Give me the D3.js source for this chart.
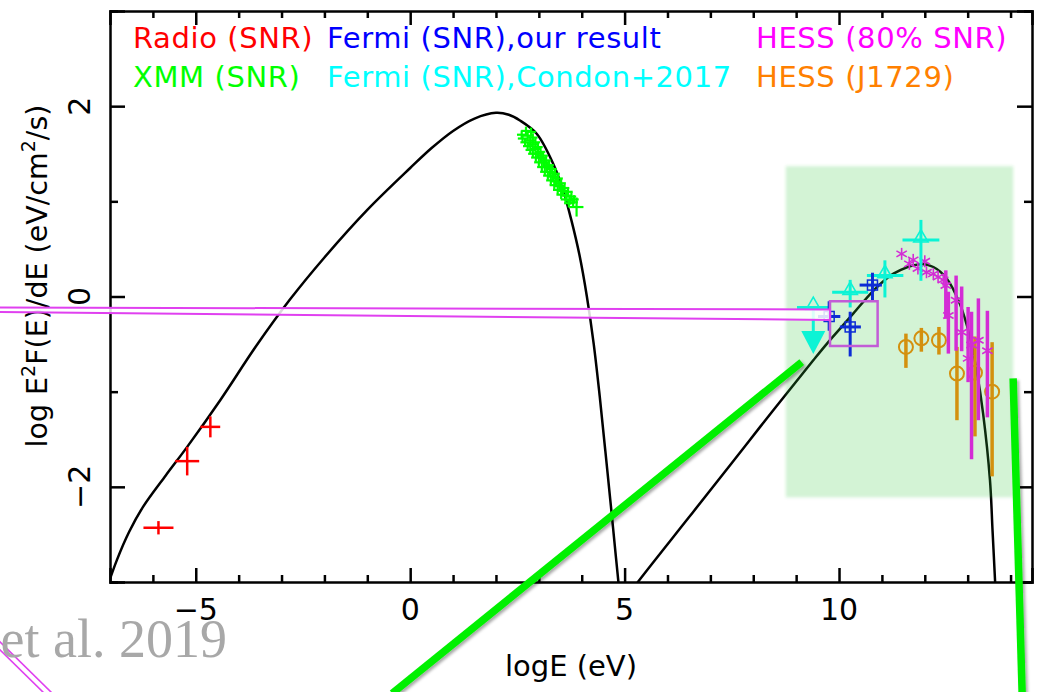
<!DOCTYPE html>
<html>
<head>
<meta charset="utf-8">
<script src="https://cdn.jsdelivr.net/npm/d3@7"></script>
<style>
  html, body { margin: 0; padding: 0; background: #fff; }
  svg { display: block; }
</style>
</head>
<body>
<svg id="chart" width="1037" height="692"></svg>
<script>
// ---- axis ranges and ticks ----
const xDomain = [-7, 14.5];
const yDomain = [-3, 3];
const xMajorTicks = [-5, 0, 5, 10];
const xMinorTicks = d3.range(-6, 15, 1);
const yMajorTicks = [-2, 0, 2];
const yMinorTicks = [-3, -1, 1, 3];

// ---- model curves (logE, log E^2 dN/dE) ----
const synchrotronCurve = [
  [-7.1, -3.1], [-6.84, -2.77], [-6.55, -2.47], [-6.23, -2.21], [-5.7, -1.88],
  [-5.2, -1.58], [-4.43, -1.09], [-3.6, -0.526], [-2.8, -0.03], [-2.0, 0.41],
  [-1.0, 0.91], [0.0, 1.35], [0.5, 1.56], [1.0, 1.74], [1.5, 1.87],
  [2.0, 1.93], [2.3, 1.91], [2.56, 1.85], [2.95, 1.71], [3.34, 1.39],
  [3.57, 1.11], [3.76, 0.80], [3.95, 0.43], [4.12, 0.0], [4.28, -0.5],
  [4.42, -1.05], [4.55, -1.62], [4.68, -2.2], [4.80, -2.75], [4.90, -3.2]
];
const inverseComptonCurve = [
  [5.2, -3.07], [5.31, -3.0], [6.5, -2.32], [7.5, -1.75], [8.16, -1.37],
  [8.9, -0.95], [9.4, -0.67], [9.71, -0.50], [10.02, -0.34], [10.33, -0.18],
  [10.80, 0.06], [11.27, 0.24], [11.89, 0.34], [12.20, 0.31], [12.51, 0.19],
  [12.82, -0.08], [13.05, -0.42], [13.21, -0.78], [13.36, -1.23], [13.52, -1.93],
  [13.58, -2.46], [13.64, -3.0], [13.66, -3.2]
];

// ---- data: [logE, value, xErrLow, xErrHigh, yErrLow, yErrHigh] ----
const radioSNR = [
  [-5.87, -2.43, 0.35, 0.35, 0.07, 0.07],
  [-5.20, -1.73, 0.28, 0.28, 0.15, 0.15],
  [-4.66, -1.37, 0.23, 0.23, 0.11, 0.11]
];
// XMM spectrum: [logE, value]
const xmmSNR = [
  [2.60,1.70],[2.70,1.74],[2.82,1.73],[2.62,1.66],[2.74,1.69],[2.86,1.67],
  [2.68,1.62],[2.80,1.64],[2.92,1.62],[2.74,1.58],[2.86,1.60],[2.98,1.57],
  [2.80,1.54],[2.92,1.55],[3.04,1.52],[2.86,1.50],[2.98,1.50],[3.10,1.48],
  [2.93,1.46],[3.05,1.46],[3.17,1.43],[3.00,1.41],[3.12,1.41],[3.24,1.38],
  [3.07,1.36],[3.19,1.36],[3.31,1.34],[3.14,1.31],[3.26,1.31],[3.38,1.29],
  [3.21,1.27],[3.33,1.26],[3.45,1.24],[3.28,1.22],[3.40,1.21],[3.52,1.19],
  [3.36,1.17],[3.48,1.16],[3.60,1.14],[3.44,1.12],[3.56,1.11],[3.68,1.10],
  [3.52,1.07],[3.64,1.06],[3.76,1.05],[3.62,1.02],[3.72,1.01],[3.82,1.02],
  [3.70,0.98],[3.80,0.99]
];
const xmmSNRLast = [[3.88, 0.94, 0.16, 0.16, 0.1, 0.1]];
const fermiOurs = [
  [9.77, -0.21, 0.26, 0.26, 0.15, 0.16],
  [10.26, -0.32, 0.24, 0.25, 0.31, 0.16],
  [10.78, 0.12, 0.30, 0.22, 0.16, 0.13]
];
const fermiCondon = [
  [10.26, 0.045, 0.42, 0.42, 0.16, 0.13],
  [11.07, 0.22, 0.42, 0.43, 0.23, 0.16],
  [11.91, 0.595, 0.43, 0.43, 0.43, 0.21]
];
// upper limit: [logE, value, xErr, arrow length]
const fermiCondonUL = [[9.40, -0.115, 0.38, 0.49]];
// [logE, value, yErrLow, yErrHigh]
const hessSNR = [
  [11.46, 0.448, 0.04, 0.04], [11.64, 0.343, 0.04, 0.04], [11.73, 0.385, 0.04, 0.04],
  [11.84, 0.294, 0.04, 0.04], [12.00, 0.370, 0.04, 0.04], [12.04, 0.255, 0.04, 0.04],
  [12.20, 0.238, 0.04, 0.04], [12.31, 0.203, 0.04, 0.04], [12.43, 0.175, 0.05, 0.05],
  [12.49, 0.115, 0.35, 0.16], [12.55, -0.20, 0.40, 0.25], [12.73, -0.04, 0.53, 0.26],
  [12.86, -0.375, 0.20, 0.48], [13.01, -0.65, 0.25, 0.54], [13.09, -0.51, 1.20, 0.35],
  [13.25, -0.46, 0.84, 0.44], [13.46, -0.57, 0.70, 0.42]
];
const hessJ1729 = [
  [11.56, -0.53, 0.22, 0.14], [11.92, -0.44, 0.14, 0.11], [12.33, -0.46, 0.15, 0.14],
  [12.75, -0.81, 0.49, 0.28], [13.17, -0.80, 0.67, 0.38], [13.57, -1.00, 0.89, 0.52]
];

// ---- legend entries: [label, colour, column, row] ----
const legendRows = [
  ["Radio (SNR)", "#ff0000", 0, 0], ["Fermi (SNR),our result", "#0000ff", 1, 0],
  ["HESS (80% SNR)", "#ff00ff", 2, 0], ["XMM (SNR)", "#00ff00", 0, 1],
  ["Fermi (SNR),Condon+2017", "#00ffff", 1, 1], ["HESS (J1729)", "#ff8000", 2, 1]
];

// ---- highlighted region and callouts (logE, value) ----
const zoomRegion = { x0: 8.76, x1: 14.06, y0: -2.11, y1: 1.37 };
const fermiBox = { x0: 9.79, x1: 10.90, y0: -0.52, y1: -0.05 };
const zoomLines = [
  [[9.13, -0.69], [-0.42, -4.17]],
  [[14.06, -0.86], [14.27, -4.17]]
];

// ---------------------------------------------------------------
const svg = d3.select("#chart");
const W = 1037, H = 692;
const SANS = "'DejaVu Sans', sans-serif";
const x = d3.scaleLinear().domain(xDomain).range([110, 1032]);
const y = d3.scaleLinear().domain(yDomain).range([582, 11]);

const defs = svg.append("defs");
defs.append("clipPath").attr("id", "plotClip").append("rect")
  .attr("x", x(xDomain[0])).attr("y", y(yDomain[1]))
  .attr("width", x(xDomain[1]) - x(xDomain[0])).attr("height", y(yDomain[0]) - y(yDomain[1]));
defs.append("filter").attr("id", "soft").attr("x", "-5%").attr("y", "-5%").attr("width", "110%").attr("height", "110%")
  .append("feGaussianBlur").attr("stdDeviation", 1.6);
const sh = defs.append("filter").attr("id", "shadow").attr("x", "-20%").attr("y", "-20%").attr("width", "140%").attr("height", "140%");
sh.append("feDropShadow").attr("dx", 2).attr("dy", 2).attr("stdDeviation", 1.6)
  .attr("flood-color", "#000").attr("flood-opacity", 0.35);

svg.append("rect").attr("width", W).attr("height", H).attr("fill", "#fff");

// axes: major and minor ticks on all four sides, pointing inward
function styleAxis(g) {
  g.selectAll("path.domain").attr("stroke", "#000").attr("stroke-width", 2.5);
  g.selectAll(".tick line").attr("stroke", "#000").attr("stroke-width", 2.5);
}
const fmt = v => (v < 0 ? "\u2212" + Math.abs(v) : String(v));
const minorX = xMinorTicks.filter(v => !xMajorTicks.includes(v));

function ticks(axisFn, scale, pos, major, minor, majLen, minLen) {
  const gMaj = svg.append("g").attr("transform", pos)
    .call(axisFn(scale).tickValues(major).tickSize(-majLen).tickFormat(""));
  styleAxis(gMaj);
  const gMin = svg.append("g").attr("transform", pos)
    .call(axisFn(scale).tickValues(minor).tickSize(-minLen).tickFormat(""));
  styleAxis(gMin); gMin.select("path.domain").remove();
}
ticks(d3.axisBottom, x, `translate(0,${y(yDomain[0])})`, xMajorTicks, minorX, 14, 7);
ticks(d3.axisTop, x, `translate(0,${y(yDomain[1])})`, xMajorTicks, minorX, 14, 7);
ticks(d3.axisLeft, y, `translate(${x(xDomain[0])},0)`, yMajorTicks, yMinorTicks, 15, 8);
ticks(d3.axisRight, y, `translate(${x(xDomain[1])},0)`, yMajorTicks, yMinorTicks, 15, 8);

// tick labels
svg.append("g").selectAll("text").data(xMajorTicks).join("text")
  .attr("x", d => x(d)).attr("y", 620).attr("text-anchor", "middle")
  .style("font-family", SANS).attr("font-size", 30).text(fmt);
svg.append("g").selectAll("text").data(yMajorTicks).join("text")
  .attr("transform", d => `translate(90,${y(d)}) rotate(-90)`)
  .attr("text-anchor", "middle").style("font-family", SANS).attr("font-size", 30).text(fmt);

// axis titles
svg.append("text").attr("x", (x(xDomain[0]) + x(xDomain[1])) / 2).attr("y", 676)
  .attr("text-anchor", "middle").style("font-family", SANS).attr("font-size", 29).text("logE (eV)");
const yl = svg.append("text").attr("transform", `translate(47,${276}) rotate(-90)`)
  .attr("text-anchor", "middle").style("font-family", SANS).attr("font-size", 28.5);
yl.append("tspan").text("log E");
yl.append("tspan").attr("font-size", 19).attr("dy", -12).text("2");
yl.append("tspan").attr("dy", 12).text("F(E)/dE (eV/cm");
yl.append("tspan").attr("font-size", 19).attr("dy", -12).text("2");
yl.append("tspan").attr("dy", 12).text("/s)");

// legend
const legX = [133, 327, 756], legY = [48, 87];
svg.append("g").selectAll("text").data(legendRows).join("text")
  .attr("x", d => legX[d[2]]).attr("y", d => legY[d[3]])
  .style("font-family", SANS).attr("font-size", 29).attr("letter-spacing", 0.6)
  .attr("fill", d => d[1]).text(d => d[0]);

// ---- plot contents ----
const plot = svg.append("g").attr("clip-path", "url(#plotClip)");
const line = d3.line().x(d => x(d[0])).y(d => y(d[1])).curve(d3.curveCatmullRom.alpha(0.5));
plot.append("path").attr("d", line(synchrotronCurve)).attr("fill", "none").attr("stroke", "#000").attr("stroke-width", 2.5);
plot.append("path").attr("d", line(inverseComptonCurve)).attr("fill", "none").attr("stroke", "#000").attr("stroke-width", 2.5);

function errorCrosses(g, data, color, width) {
  const s = g.append("g").attr("stroke", color).attr("stroke-width", width).attr("fill", "none");
  data.forEach(d => {
    s.append("line").attr("x1", x(d[0] - d[2])).attr("x2", x(d[0] + d[3])).attr("y1", y(d[1])).attr("y2", y(d[1]));
    s.append("line").attr("x1", x(d[0])).attr("x2", x(d[0])).attr("y1", y(d[1] - d[4])).attr("y2", y(d[1] + d[5]));
  });
  return s;
}

// radio
errorCrosses(plot, radioSNR, "#ff0000", 2.5);

// XMM spectrum points with small error crosses
errorCrosses(plot, xmmSNR.map(d => [d[0], d[1], 0.11, 0.11, 0.045, 0.045]), "#00ff00", 2.2);
errorCrosses(plot, xmmSNRLast, "#00ff00", 2.2);

// HESS (J1729): circles with vertical bars
const hj = plot.append("g").attr("stroke", "#ff8000").attr("fill", "none");
hessJ1729.forEach(d => {
  hj.append("line").attr("x1", x(d[0])).attr("x2", x(d[0])).attr("y1", y(d[1] - d[2])).attr("y2", y(d[1] + d[3])).attr("stroke-width", 3.5);
  hj.append("circle").attr("cx", x(d[0])).attr("cy", y(d[1])).attr("r", 7).attr("stroke-width", 2);
});

// HESS (80% SNR): asterisks with vertical bars
const hs = plot.append("g").attr("stroke", "#ff00ff").attr("fill", "none");
hessSNR.forEach(d => {
  if (d[2] > 0.1 || d[3] > 0.1)
    hs.append("line").attr("x1", x(d[0])).attr("x2", x(d[0])).attr("y1", y(d[1] - d[2])).attr("y2", y(d[1] + d[3])).attr("stroke-width", 3.5);
  const cx = x(d[0]), cy = y(d[1]), r = 6;
  [0, 60, 120].forEach(a => {
    const rad = a * Math.PI / 180;
    hs.append("line").attr("x1", cx - r * Math.sin(rad)).attr("x2", cx + r * Math.sin(rad))
      .attr("y1", cy - r * Math.cos(rad)).attr("y2", cy + r * Math.cos(rad)).attr("stroke-width", 1.6);
  });
});

// Fermi, Condon+2017: crosses with open triangles, plus an upper limit
errorCrosses(plot, fermiCondon, "#00ffff", 3);
const tri = d3.symbol().type(d3.symbolTriangle).size(90);
plot.append("g").selectAll("path").data(fermiCondon.concat(fermiCondonUL)).join("path")
  .attr("transform", d => `translate(${x(d[0])},${y(d[1]) - 2})`).attr("d", tri)
  .attr("fill", "none").attr("stroke", "#00ffff").attr("stroke-width", 1.6);
const ul = plot.append("g").attr("stroke", "#00ffff").attr("stroke-width", 3);
fermiCondonUL.forEach(d => {
  const cx = x(d[0]), tip = y(d[1] - d[3]);
  ul.append("line").attr("x1", x(d[0] - d[2])).attr("x2", x(d[0] + d[2])).attr("y1", y(d[1])).attr("y2", y(d[1]));
  ul.append("line").attr("x1", cx).attr("x2", cx).attr("y1", y(d[1])).attr("y2", tip - 20);
  ul.append("path").attr("fill", "#00ffff").attr("stroke", "none")
    .attr("d", `M${cx - 12},${tip - 23} L${cx + 12},${tip - 23} L${cx},${tip} Z`);
});

// Fermi, this work: crosses with open squares
errorCrosses(plot, fermiOurs, "#0000ff", 3);
plot.append("g").selectAll("rect").data(fermiOurs).join("rect")
  .attr("x", d => x(d[0]) - 5).attr("y", d => y(d[1]) - 5).attr("width", 10).attr("height", 10)
  .attr("fill", "none").attr("stroke", "#0000ff").attr("stroke-width", 1.5);

// ---- highlighted energy window (semi-transparent wash over the plot) ----
svg.append("rect")
  .attr("x", x(zoomRegion.x0)).attr("y", y(zoomRegion.y1))
  .attr("width", x(zoomRegion.x1) - x(zoomRegion.x0)).attr("height", y(zoomRegion.y0) - y(zoomRegion.y1))
  .attr("fill", "rgb(60,200,70)").attr("fill-opacity", 0.22).attr("filter", "url(#soft)");

// callout box around the Fermi points
svg.append("rect")
  .attr("x", x(fermiBox.x0)).attr("y", y(fermiBox.y1))
  .attr("width", x(fermiBox.x1) - x(fermiBox.x0)).attr("height", y(fermiBox.y0) - y(fermiBox.y1))
  .attr("fill", "none").attr("stroke", "#c25cd6").attr("stroke-width", 2.5);

// callout pointer from the left
const bx = x(fermiBox.x0);
svg.append("path")
  .attr("d", `M-5,307.5 L${bx},309.5 L${bx},320 L-5,312 Z`)
  .attr("fill", "#fff").attr("fill-opacity", 0.85).attr("stroke", "#e040f0").attr("stroke-width", 2);
svg.append("g").attr("stroke", "#e040f0").attr("stroke-width", 1.6)
  .selectAll("line").data([0, 4]).join("line")
  .attr("x1", d => -5 + d).attr("y1", d => 645 - d).attr("x2", d => 48 + d).attr("y2", d => 697 - d);

// green zoom lines
svg.append("g").attr("filter", "url(#shadow)").selectAll("line").data(zoomLines).join("line")
  .attr("x1", d => x(d[0][0])).attr("y1", d => y(d[0][1]))
  .attr("x2", d => x(d[1][0])).attr("y2", d => y(d[1][1]))
  .attr("stroke", "#00f000").attr("stroke-width", 7.5);

// citation fragment
svg.append("text").attr("x", 227).attr("y", 657).attr("text-anchor", "end")
  .style("font-family", "'Liberation Serif', 'Times New Roman', serif").attr("font-size", 54).attr("fill", "#a8a8a8")
  .text("Liu et al. 2019");
</script>
</body>
</html>
